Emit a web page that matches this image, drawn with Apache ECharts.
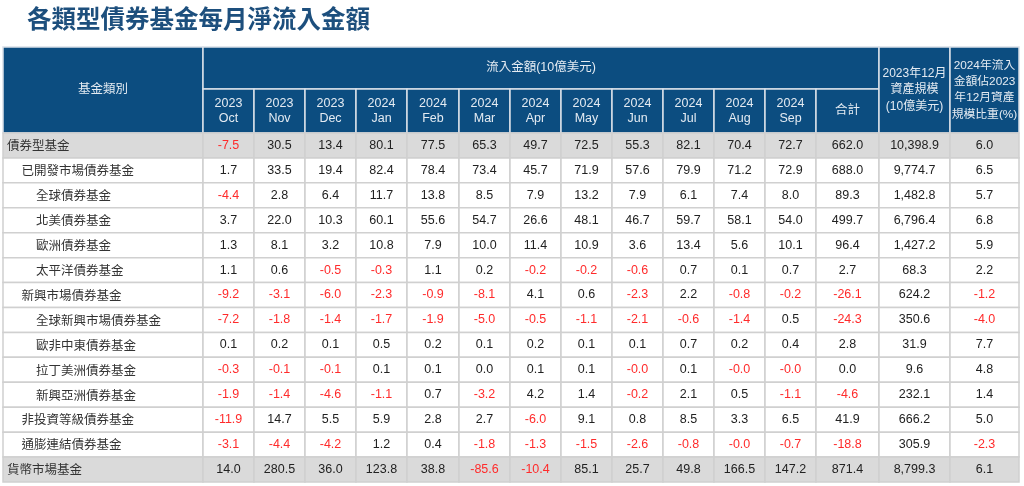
<!DOCTYPE html>
<html>
<head>
<meta charset="utf-8">
<script src="https://cdn.jsdelivr.net/npm/echarts@6/dist/echarts.min.js"></script>
<style>
html,body{margin:0;padding:0;background:#fff;}
#main{width:1024px;height:486px;}
</style>
</head>
<body>
<div id="main"></div>
<script>
// ---------- data ----------
const titleText = '各類型債券基金每月淨流入金額';
const rowNames = ['債券型基金','已開發市場債券基金','全球債券基金','北美債券基金','歐洲債券基金','太平洋債券基金','新興市場債券基金','全球新興市場債券基金','歐非中東債券基金','拉丁美洲債券基金','新興亞洲債券基金','非投資等級債券基金','通膨連結債券基金','貨幣市場基金'];
const rowLevels = [0,1,2,2,2,2,1,2,2,2,2,1,1,0];
const monthYears = ['2023','2023','2023','2024','2024','2024','2024','2024','2024','2024','2024','2024'];
const monthNames = ['Oct','Nov','Dec','Jan','Feb','Mar','Apr','May','Jun','Jul','Aug','Sep'];
const headCategory = '基金類別';
const headFlow = '流入金額(10億美元)';
const headTotal = '合計';
const headAssets = '2023年12月\n資產規模\n(10億美元)';
const headRatio = '2024年流入\n金額佔2023\n年12月資產\n規模比重(%)';

const flowOct = [-7.5, 1.7, -4.4, 3.7, 1.3, 1.1, -9.2, -7.2, 0.1, -0.3, -1.9, -11.9, -3.1, 14.0];
const flowNov = [30.5, 33.5, 2.8, 22.0, 8.1, 0.6, -3.1, -1.8, 0.2, -0.1, -1.4, 14.7, -4.4, 280.5];
const flowDec = [13.4, 19.4, 6.4, 10.3, 3.2, -0.5, -6.0, -1.4, 0.1, -0.1, -4.6, 5.5, -4.2, 36.0];
const flowJan = [80.1, 82.4, 11.7, 60.1, 10.8, -0.3, -2.3, -1.7, 0.5, 0.1, -1.1, 5.9, 1.2, 123.8];
const flowFeb = [77.5, 78.4, 13.8, 55.6, 7.9, 1.1, -0.9, -1.9, 0.2, 0.1, 0.7, 2.8, 0.4, 38.8];
const flowMar = [65.3, 73.4, 8.5, 54.7, 10.0, 0.2, -8.1, -5.0, 0.1, 0.0, -3.2, 2.7, -1.8, -85.6];
const flowApr = [49.7, 45.7, 7.9, 26.6, 11.4, -0.2, 4.1, -0.5, 0.2, 0.1, 4.2, -6.0, -1.3, -10.4];
const flowMay = [72.5, 71.9, 13.2, 48.1, 10.9, -0.2, 0.6, -1.1, 0.1, 0.1, 1.4, 9.1, -1.5, 85.1];
const flowJun = [55.3, 57.6, 7.9, 46.7, 3.6, -0.6, -2.3, -2.1, 0.1, -0.0, -0.2, 0.8, -2.6, 25.7];
const flowJul = [82.1, 79.9, 6.1, 59.7, 13.4, 0.7, 2.2, -0.6, 0.7, 0.1, 2.1, 8.5, -0.8, 49.8];
const flowAug = [70.4, 71.2, 7.4, 58.1, 5.6, 0.1, -0.8, -1.4, 0.2, -0.0, 0.5, 3.3, -0.0, 166.5];
const flowSep = [72.7, 72.9, 8.0, 54.0, 10.1, 0.7, -0.2, 0.5, 0.4, -0.0, -1.1, 6.5, -0.7, 147.2];
const flowTotal = [662.0, 688.0, 89.3, 499.7, 96.4, 2.7, -26.1, -24.3, 2.8, 0.0, -4.6, 41.9, -18.8, 871.4];
const assetsDec2023 = [10398.9, 9774.7, 1482.8, 6796.4, 1427.2, 68.3, 624.2, 350.6, 31.9, 9.6, 232.1, 666.2, 305.9, 8799.3];
const flowShare = [6.0, 6.5, 5.7, 6.8, 5.9, 2.2, -1.2, -4.0, 7.7, 4.8, 1.4, 5.0, -2.3, 6.1];

const valueColumns = [flowOct, flowNov, flowDec, flowJan, flowFeb, flowMar, flowApr, flowMay, flowJun, flowJul, flowAug, flowSep, flowTotal, assetsDec2023, flowShare];

// ---------- layout ----------
const colWidths = [200, 51,51,51,51,52,51,51,51,51,51,51,51, 63, 71, 69];
const headH1 = 42, headH2 = 44, rowH = 24.93;
const totalW = colWidths.reduce((a,b)=>a+b,0);
const totalH = headH1 + headH2 + rowH * rowNames.length;
const colX = [0];
colWidths.forEach(w => colX.push(colX[colX.length-1] + w));

const HEAD_BG = '#0c4d80', HEAD_FG = '#e4ebf2', HEAD_LINE = '#d9e0e8';
const BODY_LINE = '#d0d0d0', GREY_BG = '#dadada', RED = '#ff2b2b', BLACK = '#222222';
const FONT = "'Liberation Sans', 'Noto Sans CJK TC', sans-serif";
const CJK_FONT = "'Noto Sans CJK TC', sans-serif";

function fmt(v, thousands) {
  const neg = v < 0 || Object.is(v, -0);
  let s = Math.abs(v).toFixed(1);
  if (thousands) {
    const p = s.split('.');
    p[0] = p[0].replace(/\B(?=(\d{3})+(?!\d))/g, ',');
    s = p.join('.');
  }
  return { text: (neg ? '-' : '') + s, neg };
}

const cells = [];
// header cells
cells.push({x0: colX[0], x1: colX[1], y0: 0, y1: headH1 + headH2, text: headCategory, head: true, fs: 12.5});
cells.push({x0: colX[1], x1: colX[14], y0: 0, y1: headH1, text: headFlow, head: true, fs: 12.5});
for (let m = 0; m < 12; m++) {
  cells.push({x0: colX[m+1], x1: colX[m+2], y0: headH1, y1: headH1 + headH2, text: monthYears[m] + '\n' + monthNames[m], head: true, lh: 15, fs: 12.5});
}
cells.push({x0: colX[13], x1: colX[14], y0: headH1, y1: headH1 + headH2, text: headTotal, head: true, fs: 12.5});
cells.push({x0: colX[14], x1: colX[15], y0: 0, y1: headH1 + headH2, text: headAssets, head: true, lh: 16.5, fs: 12});
cells.push({x0: colX[15], x1: colX[16], y0: 0, y1: headH1 + headH2, text: headRatio, head: true, lh: 16.3, fs: 11.8});
// body cells
rowNames.forEach((name, r) => {
  const y0 = headH1 + headH2 + r * rowH, y1 = y0 + rowH;
  const grey = rowLevels[r] === 0;
  cells.push({x0: colX[0], x1: colX[1], y0, y1, text: name, grey, left: true, indent: 4 + rowLevels[r] * 14.5, fs: 12.5});
  valueColumns.forEach((col, c) => {
    const f = fmt(col[r], c === 13);
    cells.push({x0: colX[c+1], x1: colX[c+2], y0, y1, text: f.text, grey, red: f.neg, fs: 12.5});
  });
});

const chart = echarts.init(document.getElementById('main'), null, {renderer: 'canvas'});
chart.setOption({
  animation: false,
  backgroundColor: '#ffffff',
  title: {
    text: titleText, left: 22, top: 1,
    textStyle: {fontFamily: CJK_FONT, fontSize: 24.5, fontWeight: 'bold', color: '#1d4f7d'}
  },
  grid: {left: 3, top: 47, width: totalW, height: totalH},
  xAxis: {type: 'value', min: 0, max: totalW, show: false},
  yAxis: {type: 'value', min: 0, max: totalH, inverse: true, show: false},
  series: [{
    type: 'custom',
    coordinateSystem: 'cartesian2d',
    data: cells.map(c => [c.x0, c.y0, c.x1, c.y1]),
    renderItem: function (params, api) {
      const c = cells[params.dataIndex];
      const p0 = api.coord([api.value(0), api.value(1)]);
      const p1 = api.coord([api.value(2), api.value(3)]);
      const w = p1[0] - p0[0], h = p1[1] - p0[1];
      const fill = c.head ? HEAD_BG : (c.grey ? GREY_BG : '#ffffff');
      const stroke = c.head ? HEAD_LINE : BODY_LINE;
      return {
        type: 'group',
        children: [{
          type: 'rect',
          shape: {x: p0[0], y: p0[1], width: w, height: h},
          style: {fill: fill, stroke: stroke, lineWidth: 1.5}
        }, {
          type: 'text',
          style: {
            text: c.text,
            x: c.left ? p0[0] + c.indent : p0[0] + w / 2,
            y: p0[1] + h / 2,
            align: c.left ? 'left' : 'center',
            verticalAlign: 'middle',
            fill: c.head ? HEAD_FG : (c.red ? RED : (c.left ? '#333333' : BLACK)),
            fontFamily: c.left ? CJK_FONT : FONT,
            fontSize: c.fs,
            lineHeight: c.lh || 16
          }
        }]
      };
    }
  }]
});
</script>
</body>
</html>
